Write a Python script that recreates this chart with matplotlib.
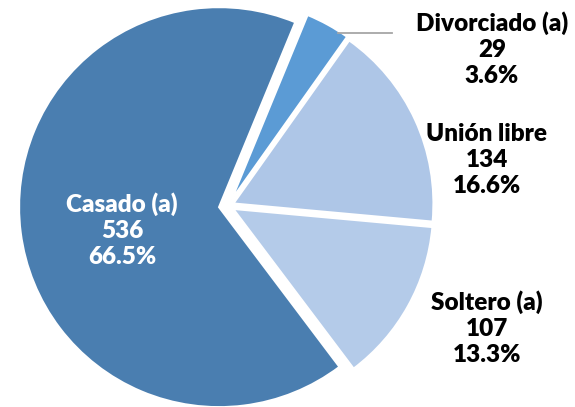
import numpy as np
import matplotlib.pyplot as plt

# estado civil
labels = ["Divorciado (a)", "Unión libre", "Soltero (a)", "Casado (a)"]
counts = [29, 134, 107, 536]
pcts = [3.6, 16.6, 13.3, 66.5]
colors = ["#5b9bd5", "#aec6e7", "#b4cbe9", "#4a7eb0"]
explode = [7, 6, 6, 9]  # data units (pixels)

fig = plt.figure(figsize=(5.75, 4.07), dpi=100)
ax = fig.add_axes([0, 0, 1, 1])

cx, cy, r = 228, 201, 200
wedges, _ = ax.pie(counts, colors=colors, explode=explode, startangle=67.6,
                   counterclock=False, center=(cx, cy), radius=r,
                   wedgeprops=dict(edgecolor="white", linewidth=1.5),
                   frame=True)
ax.set_xlim(0, 575)
ax.set_ylim(0, 407)
ax.set_aspect("equal")
ax.axis("off")

font = dict(family="Lato", weight="heavy", fontsize=17.5, ha="center",
            va="center", linespacing=1.22)

# label positions (pixels, from top)
pos = [(492, 49), (487, 160), (487, 328), (122, 230)]
for lab, n, p, (x, y) in zip(labels, counts, pcts, pos):
    col = "white" if lab.startswith("Casado") else "black"
    ax.text(x, 407 - y, f"{lab}\n{n}\n{p}%", color=col, **font)

# leader line for Divorciado
ax.plot([338, 392], [407 - 33, 407 - 33], color="#a6a6a6", lw=1.3)

fig.savefig("out.png", dpi=100)
